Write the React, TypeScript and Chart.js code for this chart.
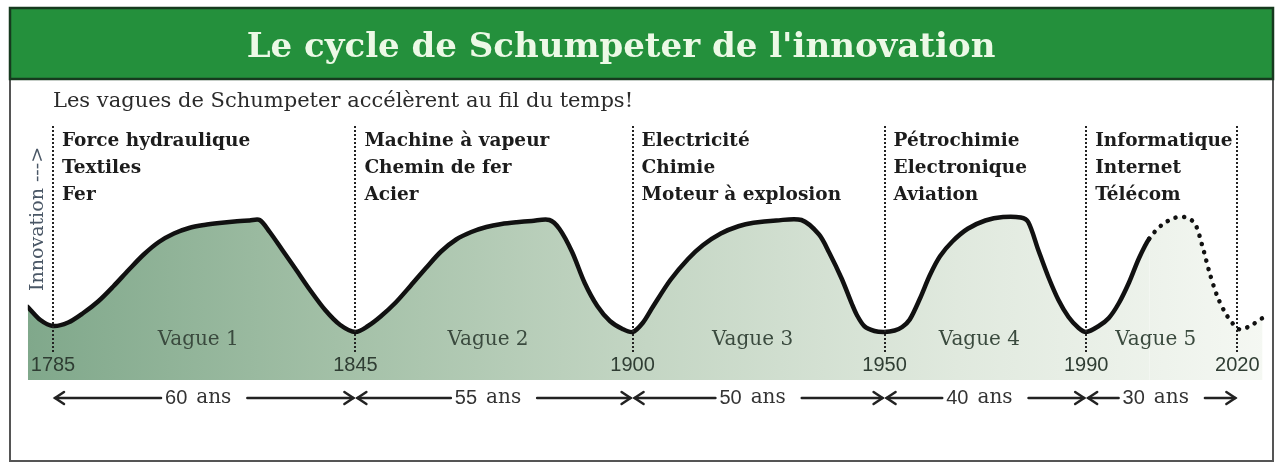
import { useEffect, useRef } from "react";
import { Chart, registerables } from "chart.js";

Chart.register(...registerables);

const TITLE = "Le cycle de Schumpeter de l'innovation";
const SUBTITLE = "Les vagues de Schumpeter accélèrent au fil du temps!";
const AXIS_LABEL = "Innovation --->";

// Innovation curve (year, relative innovation level)
const curveYears = [
  // wave 1
  1780, 1782.5, 1785, 1788, 1791, 1794, 1797, 1800, 1803, 1806, 1809, 1812, 1815, 1818, 1821, 1824, 1826,
  1828, 1830.5, 1833, 1836, 1839, 1842, 1845,
  // wave 2
  1847.5, 1850, 1853, 1856, 1859, 1862, 1865, 1868, 1871, 1874, 1877, 1880, 1883.5,
  1885.5, 1888, 1890.5, 1893, 1895.5, 1898, 1900,
  // wave 3
  1902, 1904, 1907.5, 1911, 1914, 1917.5, 1921, 1924, 1928.5, 1933.5,
  1937, 1939, 1941.5, 1943.5, 1944.5, 1946, 1948, 1950,
  // wave 4
  1952, 1953.5, 1955, 1957, 1959, 1961, 1963.5, 1966.5, 1970, 1973.5, 1977,
  1978.5, 1980.5, 1982.5, 1984.5, 1986.5, 1988.5, 1990,
  // wave 5 (dotted from 2001 on)
  1992.5, 1994.5, 1996.5, 1998.5, 2000.5, 2002.5, 2005, 2007.5, 2009.5, 2011.5,
  2013, 2014.5, 2016, 2017.5, 2019, 2020.5, 2022.5, 2025,
];
const curveValues = [
  29.2, 24, 21.6, 23, 26.8, 31.5, 37.5, 44, 50.2, 55.2, 58.6, 60.8, 62, 62.8, 63.4, 63.8, 64,
  59.2, 52, 44.8, 36, 28, 22, 19.2,
  21.6, 25.4, 31, 37.8, 44.8, 51.4, 56.2, 59.2, 61.2, 62.4, 63.1, 63.6, 64,
  60.4, 51.2, 38.8, 29.6, 23.6, 20.4, 19.2,
  22.8, 29.2, 40, 48.4, 54, 58.6, 61.5, 62.9, 63.8, 64,
  58.2, 51, 40.5, 30.5, 26, 21.5, 19.6, 19.2,
  19.8, 21.2, 24.2, 32.5, 42, 49.5, 55.5, 60.5, 63.8, 65.2, 65,
  63.2, 52, 41.2, 32, 25.2, 20.8, 19.2,
  21.6, 24.8, 30.8, 39, 48.8, 56.5, 62, 64.8, 65.2, 62.8,
  54, 42.8, 33.6, 27.2, 22.8, 20.2, 21.6, 24.8,
];
const FORECAST_FROM = 2001;

const boundaryYears = [1785, 1845, 1900, 1950, 1990, 2020];
const yearLabels = ["1785", "1845", "1900", "1950", "1990", "2020"];
const waveNames = ["Vague 1", "Vague 2", "Vague 3", "Vague 4", "Vague 5"];
const waveDurations = ["60", "55", "50", "40", "30"];
const DURATION_UNIT = "ans";
const waveInnovations = [
  ["Force hydraulique", "Textiles", "Fer"],
  ["Machine à vapeur", "Chemin de fer", "Acier"],
  ["Electricité", "Chimie", "Moteur à explosion"],
  ["Pétrochimie", "Electronique", "Aviation"],
  ["Informatique", "Internet", "Télécom"],
];

const W = 1278;
const H = 464;

function chevron(c: CanvasRenderingContext2D, tipX: number, y: number, dir: number) {
  c.beginPath();
  c.moveTo(tipX + dir * -9, y - 6);
  c.lineTo(tipX, y);
  c.lineTo(tipX + dir * -9, y + 6);
  c.stroke();
}

const decorPlugin = {
  id: "decor",
  beforeDraw(chart: any) {
    const c: CanvasRenderingContext2D = chart.ctx;
    c.save();
    c.fillStyle = "#ffffff";
    c.fillRect(0, 0, W, H);
    // frame
    c.strokeStyle = "#555";
    c.lineWidth = 2;
    c.strokeRect(10, 8, 1263, 453);
    // header band
    c.fillStyle = "#24903c";
    c.fillRect(10, 8, 1263, 71);
    c.strokeStyle = "#163a1e";
    c.lineWidth = 2.5;
    c.strokeRect(10, 8, 1263, 71);
    // title
    c.fillStyle = "#ecf9e6";
    c.font = 'bold 34px "DejaVu Serif"';
    c.textAlign = "center";
    c.textBaseline = "alphabetic";
    c.fillText(TITLE, 621, 57);
    // subtitle
    c.fillStyle = "#2a2a2a";
    c.font = '21px "DejaVu Serif"';
    c.textAlign = "left";
    c.fillText(SUBTITLE, 53, 107);
    c.restore();
  },
  afterDatasetsDraw(chart: any) {
    const c: CanvasRenderingContext2D = chart.ctx;
    const xs = chart.scales.x;
    const px = boundaryYears.map((y) => xs.getPixelForValue(y));
    c.save();

    // dotted vertical boundaries
    c.strokeStyle = "#222";
    c.lineWidth = 2;
    c.setLineDash([2, 2]);
    px.forEach((x) => {
      c.beginPath();
      c.moveTo(Math.round(x), 126);
      c.lineTo(Math.round(x), 353);
      c.stroke();
    });
    c.setLineDash([]);

    // axis label (rotated)
    c.save();
    c.translate(38, 291);
    c.rotate(-Math.PI / 2);
    c.fillStyle = "#4a5766";
    c.font = '19px "DejaVu Serif"';
    c.textAlign = "left";
    c.textBaseline = "middle";
    c.fillText(AXIS_LABEL, 0, 0);
    c.restore();

    // innovation lists
    c.fillStyle = "#1c1c1c";
    c.font = 'bold 18.5px "DejaVu Serif"';
    c.textAlign = "left";
    c.textBaseline = "middle";
    waveInnovations.forEach((list, i) => {
      list.forEach((t, j) => c.fillText(t, px[i] + 9, 141 + j * 27));
    });

    // year labels
    c.fillStyle = "#2f3d33";
    c.font = '20px "Liberation Sans"';
    c.textAlign = "center";
    yearLabels.forEach((t, i) => c.fillText(t, px[i], 365));

    // wave names
    c.fillStyle = "#3a4a3e";
    c.font = '20px "DejaVu Serif"';
    waveNames.forEach((t, i) => c.fillText(t, (px[i] + px[i + 1]) / 2 - 6, 340));

    // duration arrows
    const ay = 398;
    c.strokeStyle = "#222";
    c.lineWidth = 2.5;
    c.lineCap = "round";
    waveDurations.forEach((d, i) => {
      const a = px[i] + 2;
      const b = px[i + 1] - 2;
      const cx = (px[i] + px[i + 1]) / 2 - 6;
      c.font = '20px "Liberation Sans"';
      const wNum = c.measureText(d).width;
      c.font = '20px "DejaVu Serif"';
      const wUnit = c.measureText(DURATION_UNIT).width;
      const gap = 9;
      const total = wNum + gap + wUnit;
      const left = cx - total / 2;
      const right = cx + total / 2;
      c.fillStyle = "#333";
      c.textAlign = "left";
      c.font = '20px "Liberation Sans"';
      c.fillText(d, left, ay);
      c.font = '20px "DejaVu Serif"';
      c.fillText(DURATION_UNIT, left + wNum + gap, ay);
      c.beginPath();
      c.moveTo(a, ay);
      c.lineTo(left - 4, ay);
      c.moveTo(right + 16, ay);
      c.lineTo(b, ay);
      c.stroke();
      chevron(c, a, ay, -1);
      chevron(c, b, ay, 1);
    });
    c.restore();
  },
};

export default function App() {
  const ref = useRef<HTMLCanvasElement>(null);
  useEffect(() => {
    if (!ref.current) return;
    const data = curveYears.map((x, i) => ({ x, y: curveValues[i] }));
    const chart = new Chart(ref.current, {
      type: "line",
      data: {
        datasets: [
          {
            data,
            borderColor: "#111",
            borderWidth: 4.5,
            borderCapStyle: "round",
            borderJoinStyle: "round",
            pointRadius: 0,
            tension: 0.3,
            fill: "origin",
            backgroundColor: (ctx: any) => {
              const area = ctx.chart.chartArea;
              if (!area) return "#b9cfb9";
              const g = ctx.chart.ctx.createLinearGradient(area.left, 0, area.right, 0);
              g.addColorStop(0, "#80a88b");
              g.addColorStop(0.25, "#a3c0a7");
              g.addColorStop(0.5, "#c4d6c4");
              g.addColorStop(0.75, "#e0e9de");
              g.addColorStop(1, "#f5f8f3");
              return g;
            },
            segment: {
              borderDash: (s: any) => (s.p0.parsed.x >= FORECAST_FROM ? [0.1, 8.5] : undefined),
            },
          } as any,
        ],
      },
      options: {
        responsive: false,
        animation: false,
        layout: { padding: { left: 27.8, right: 10.4, top: 130, bottom: 84 } },
        scales: {
          x: { type: "linear", min: 1780, max: 2026, display: false },
          y: { min: 0, max: 100, display: false },
        },
        plugins: { legend: { display: false }, tooltip: { enabled: false } },
      },
      plugins: [decorPlugin],
    });
    return () => chart.destroy();
  }, []);
  return (
    <div style={{ position: "absolute", left: 0, top: 0, width: W, height: H, background: "#fff" }}>
      <canvas ref={ref} width={W} height={H} style={{ display: "block" }} />
    </div>
  );
}
